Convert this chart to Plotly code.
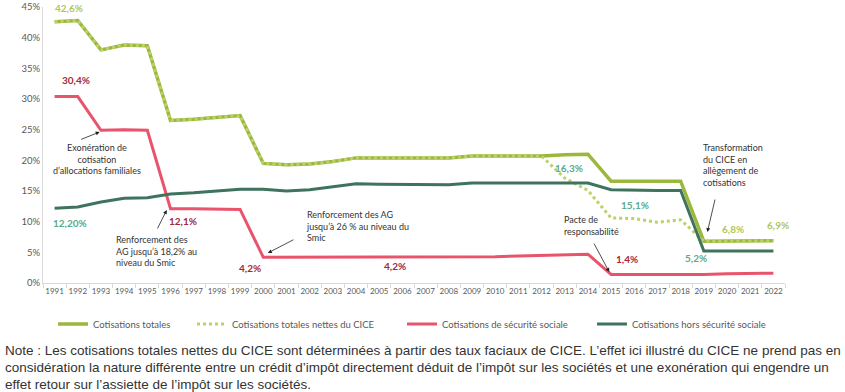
import plotly.graph_objects as go

years = [str(y) for y in range(1991, 2023)]

cot_totales = [42.6, 42.8, 38.0, 38.8, 38.7, 26.5, 26.7, 27.0, 27.3, 19.5,
               19.3, 19.4, 19.8, 20.4, 20.4, 20.4, 20.4, 20.4, 20.7, 20.7,
               20.7, 20.7, 20.9, 21.0, 16.6, 16.6, 16.6, 16.6, 6.8, 6.8,
               6.9, 6.9]
cot_nettes_cice = [42.6, 42.8, 38.0, 38.8, 38.7, 26.5, 26.7, 27.0, 27.3, 19.5,
                   19.3, 19.4, 19.8, 20.4, 20.4, 20.4, 20.4, 20.4, 20.7, 20.7,
                   20.7, 20.7, 17.1, 15.1, 10.6, 10.5, 9.9, 10.3, 6.8, 6.8,
                   6.9, 6.9]
cot_secu = [30.4, 30.4, 24.9, 25.0, 24.9, 12.1, 12.1, 12.1, 12.0, 4.2,
            4.2, 4.2, 4.2, 4.2, 4.2, 4.2, 4.3, 4.3, 4.3, 4.3,
            4.4, 4.5, 4.6, 4.7, 1.4, 1.4, 1.3, 1.3, 1.4, 1.5,
            1.6, 1.6]
cot_hors_secu = [12.2, 12.4, 13.2, 13.8, 13.9, 14.5, 14.7, 15.0, 15.3, 15.3,
                 15.0, 15.2, 15.7, 16.2, 16.1, 16.1, 16.1, 16.0, 16.3, 16.3,
                 16.3, 16.2, 16.3, 16.3, 15.2, 15.1, 15.1, 15.1, 5.2, 5.2,
                 5.2, 5.2]

y_ticks = [0, 5, 10, 15, 20, 25, 30, 35, 40, 45]
y_ticklabels = [f"{v}%" for v in y_ticks]

note_lines = [
    "Note : Les cotisations totales nettes du CICE sont déterminées à partir des taux faciaux de CICE. "
    "L’effet ici illustré du CICE ne prend pas en",
    "considération la nature différente entre un crédit d’impôt directement déduit de l’impôt sur les "
    "sociétés et une exonération qui engendre un",
    "effet retour sur l’assiette de l’impôt sur les sociétés.",
]

C_TOT = "#9BB83D"
C_NET = "#BCD268"
C_SECU = "#E8546B"
C_HORS = "#3E735D"
L_OLIVE = "#AFC758"
L_TEAL = "#5AAA8C"
L_RED = "#A3283C"

FONT = "Lato, Open Sans, sans-serif"

# plot area in pixels: x 43..785, y 7..283
def px_x(p):
    return (p - 55.0) / 23.16

def px_y(p):
    return (283.0 - p) / 6.133

def paper_x(p):
    return (p - 43.0) / 742.0

def paper_y(p):
    return (283.0 - p) / 276.0

fig = go.Figure()
fig.add_trace(go.Scatter(x=years, y=cot_totales, name="Cotisations totales", mode="lines",
                         line=dict(color=C_TOT, width=3.5), legend="legend"))
fig.add_trace(go.Scatter(x=years, y=cot_nettes_cice, name="Cotisations totales nettes du CICE", mode="lines",
                         line=dict(color=C_NET, width=3, dash="dot"), legend="legend2"))
fig.add_trace(go.Scatter(x=years, y=cot_secu, name="Cotisations de sécurité sociale", mode="lines",
                         line=dict(color=C_SECU, width=3), legend="legend3"))
fig.add_trace(go.Scatter(x=years, y=cot_hors_secu, name="Cotisations hors sécurité sociale", mode="lines",
                         line=dict(color=C_HORS, width=3), legend="legend4"))

labels = [
    ("42,6%", 69, 8, L_OLIVE),
    ("30,4%", 76, 80, L_RED),
    ("12,20%", 70, 223, L_TEAL),
    ("12,1%", 183, 221, L_RED),
    ("4,2%", 250, 268, L_RED),
    ("4,2%", 395, 266, L_RED),
    ("16,3%", 569, 168, L_TEAL),
    ("15,1%", 635, 205, L_TEAL),
    ("1,4%", 627, 259, L_RED),
    ("5,2%", 696, 258, L_TEAL),
    ("6,8%", 733, 229, L_OLIVE),
    ("6,9%", 778, 225, L_OLIVE),
    ("5,2%", 789, 263, L_TEAL),
    ("1,6%", 789, 282, L_RED),
]
for t, x, y, c in labels:
    fig.add_annotation(x=px_x(x), y=px_y(y), text=f"<b>{t}</b>", showarrow=False,
                       font=dict(family=FONT, size=10, color=c))

texts = [
    ("Exonération de<br>cotisation<br>d’allocations familiales", 97, 159, "center"),
    ("Renforcement des<br>AG jusqu’à 18,2% au<br>niveau du Smic", 114, 251, "left"),
    ("Renforcement des AG<br>jusqu’à 26 % au niveau du<br>Smic", 304, 226, "left"),
    ("Pacte de<br>responsabilité", 562, 225, "left"),
    ("Transformation<br>du CICE en<br>allègement de<br>cotisations", 701, 165, "left"),
]
for t, x, y, al in texts:
    fig.add_annotation(x=px_x(x), y=px_y(y), text=t, showarrow=False, align=al,
                       xanchor="center" if al == "center" else "left", yanchor="middle",
                       font=dict(family=FONT, size=9, color="#333333"))

arrows = [
    ((80, 140), (100, 132)),
    ((157, 230), (167, 210)),
    ((295, 239), (268, 253)),
    ((593, 242), (609, 272)),
    ((715, 198), (707, 232)),
]
for (tx, ty), (hx, hy) in arrows:
    fig.add_annotation(x=px_x(hx), y=px_y(hy), ax=px_x(tx), ay=px_y(ty),
                       axref="x", ayref="y", xref="x", yref="y", text="",
                       showarrow=True, arrowhead=2, arrowsize=1, arrowwidth=0.8,
                       arrowcolor="#222222")

for i, line in enumerate(note_lines):
    fig.add_annotation(xref="paper", yref="paper", x=paper_x(3), y=paper_y(350 + 17 * i),
                       xanchor="left", yanchor="middle", text=line, showarrow=False, align="left",
                       font=dict(family="Liberation Sans, Arial, sans-serif", size=13.5, color="#333333"))

leg_common = dict(orientation="h", yanchor="middle", y=paper_y(324), xanchor="left",
                  font=dict(family=FONT, size=9.5, color="#595959"), itemwidth=30,
                  bgcolor="rgba(0,0,0,0)")
leg_starts = [53, 192, 402, 592]

fig.update_layout(
    width=845, height=392,
    margin=dict(l=43, r=60, t=7, b=109, autoexpand=False),
    paper_bgcolor="white", plot_bgcolor="white",
    font=dict(family=FONT, size=9, color="#595959"),
    showlegend=True,
    legend=dict(leg_common, x=paper_x(leg_starts[0])),
    legend2=dict(leg_common, x=paper_x(leg_starts[1])),
    legend3=dict(leg_common, x=paper_x(leg_starts[2])),
    legend4=dict(leg_common, x=paper_x(leg_starts[3])),
    xaxis=dict(type="category", range=[-0.5, 31.5], showgrid=False, showline=True,
               linecolor="#D9D9D9", linewidth=1, ticks="outside", tickson="boundaries",
               ticklen=4, tickcolor="#D9D9D9", tickangle=0, automargin=False,
               tickfont=dict(size=8, color="#595959")),
    yaxis=dict(range=[0, 45], tickvals=y_ticks, ticktext=y_ticklabels, showgrid=False,
               showline=True, linecolor="#D9D9D9", linewidth=1, zeroline=False,
               ticks="", automargin=False, tickfont=dict(size=9.5, color="#595959")),
)

fig.write_html("out.html", config={"displayModeBar": False},
               post_script="document.body.style.margin='0';document.body.style.padding='0';"
                           "document.documentElement.style.overflow='hidden';")
